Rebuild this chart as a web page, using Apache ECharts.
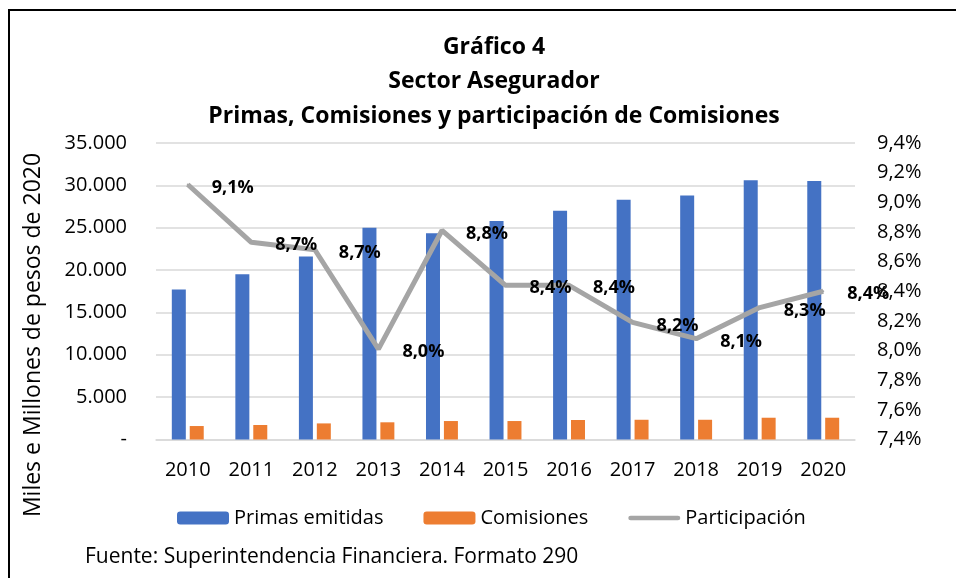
<!DOCTYPE html>
<html>
<head>
<meta charset="utf-8">
<script src="https://cdn.jsdelivr.net/npm/echarts@6/dist/echarts.min.js"></script>
<style>
  html, body { margin: 0; padding: 0; background: #fff; }
  #container { width: 956px; height: 578px; }
</style>
</head>
<body>
<div id="container"></div>
<script>
// Datos
var anios = ['2010', '2011', '2012', '2013', '2014', '2015', '2016', '2017', '2018', '2019', '2020'];
var primas = [17700, 19500, 21600, 25000, 24350, 25800, 27000, 28300, 28800, 30600, 30500];
var comisiones = [1590, 1710, 1900, 2030, 2180, 2180, 2300, 2330, 2330, 2570, 2570];
var participacion = [9.12, 8.73, 8.68, 8.01, 8.81, 8.44, 8.44, 8.19, 8.08, 8.29, 8.40];

var fuente = 'Open Sans';

document.addEventListener('DOMContentLoaded', function () {
    var dom = document.getElementById('container');
    var myChart = echarts.init(dom);

    function miles(v) {
        if (v === 0) return '-';
        return String(v).replace(/\B(?=(\d{3})+(?!\d))/g, '.');
    }
    function pct(v) {
        return v.toFixed(1).replace('.', ',') + '%';
    }

    var option = {
        animation: false,
        textStyle: { fontFamily: fuente },
        title: {
            text: 'Gráfico 4\nSector Asegurador\nPrimas, Comisiones y participación de Comisiones',
            left: 489,
            top: 25,
            textAlign: 'center',
            textStyle: {
                fontFamily: fuente,
                fontSize: 23,
                fontWeight: 'bold',
                color: '#000',
                lineHeight: 34.5
            }
        },
        legend: {
            left: 172,
            top: 501,
            itemWidth: 52,
            itemHeight: 13,
            itemGap: 40,
            textStyle: { fontFamily: fuente, fontSize: 20, color: '#000', lineHeight: 24 },
            data: [
                'Primas emitidas',
                'Comisiones',
                {
                    name: 'Participación',
                    // línea gruesa con extremos redondeados, como en Excel
                    icon: 'path://M2.5,0 L53.5,0 A2.5,2.5 0 0 1 53.5,5 L2.5,5 A2.5,2.5 0 0 1 2.5,0 Z'
                }
            ]
        },
        grid: {
            left: 156,
            right: 101,
            top: 143,
            bottom: 138.5
        },
        xAxis: {
            type: 'category',
            data: anios,
            axisTick: { show: false },
            axisLine: { lineStyle: { color: '#d9d9d9', width: 1.5 } },
            axisLabel: { margin: 21, fontSize: 20, color: '#000', fontFamily: fuente }
        },
        yAxis: [
            {
                type: 'value',
                min: 0,
                max: 35000,
                interval: 5000,
                axisLine: { show: false },
                axisTick: { show: false },
                splitLine: { lineStyle: { color: '#d9d9d9', width: 1.5 } },
                axisLabel: { margin: 29, fontSize: 20, color: '#000', fontFamily: fuente, formatter: miles }
            },
            {
                type: 'value',
                min: 7.4,
                max: 9.4,
                interval: 0.2,
                axisLine: { show: false },
                axisTick: { show: false },
                splitLine: { show: false },
                axisLabel: { margin: 22, fontSize: 20, color: '#000', fontFamily: fuente, formatter: pct }
            }
        ],
        series: [
            {
                name: 'Primas emitidas',
                type: 'bar',
                data: primas,
                barWidth: 14,
                barGap: '28%',
                itemStyle: { color: '#4472C4' }
            },
            {
                name: 'Comisiones',
                type: 'bar',
                data: comisiones,
                barWidth: 14,
                itemStyle: { color: '#ED7D31' }
            },
            {
                name: 'Participación',
                type: 'line',
                yAxisIndex: 1,
                data: participacion,
                symbol: 'circle',
                symbolSize: 2,
                itemStyle: { color: '#A5A5A5' },
                lineStyle: { color: '#A5A5A5', width: 5 },
                label: {
                    show: true,
                    position: 'right',
                    distance: 23,
                    offset: [0, 3],
                    fontFamily: fuente,
                    fontSize: 18,
                    fontWeight: 'bold',
                    color: '#000',
                    formatter: function (p) { return pct(p.value); }
                },
                z: 5
            }
        ],
        graphic: [
            {
                type: 'rect',
                shape: { x: 9, y: 10, width: 1000, height: 700 },
                style: { fill: 'none', stroke: '#000', lineWidth: 2 },
                silent: true
            },
            {
                type: 'text',
                x: 33,
                y: 335,
                rotation: Math.PI / 2,
                style: {
                    text: 'Miles e Millones de pesos de 2020',
                    fontFamily: fuente,
                    fontSize: 23,
                    fill: '#000',
                    textAlign: 'center',
                    textVerticalAlign: 'middle'
                }
            },
            {
                type: 'text',
                x: 85,
                y: 557,
                style: {
                    text: 'Fuente: Superintendencia Financiera. Formato 290',
                    fontFamily: fuente,
                    fontSize: 21,
                    fill: '#000',
                    textAlign: 'left',
                    textVerticalAlign: 'middle'
                }
            }
        ]
    };

    myChart.setOption(option);
    window.addEventListener('resize', myChart.resize);
});
</script>
</body>
</html>
